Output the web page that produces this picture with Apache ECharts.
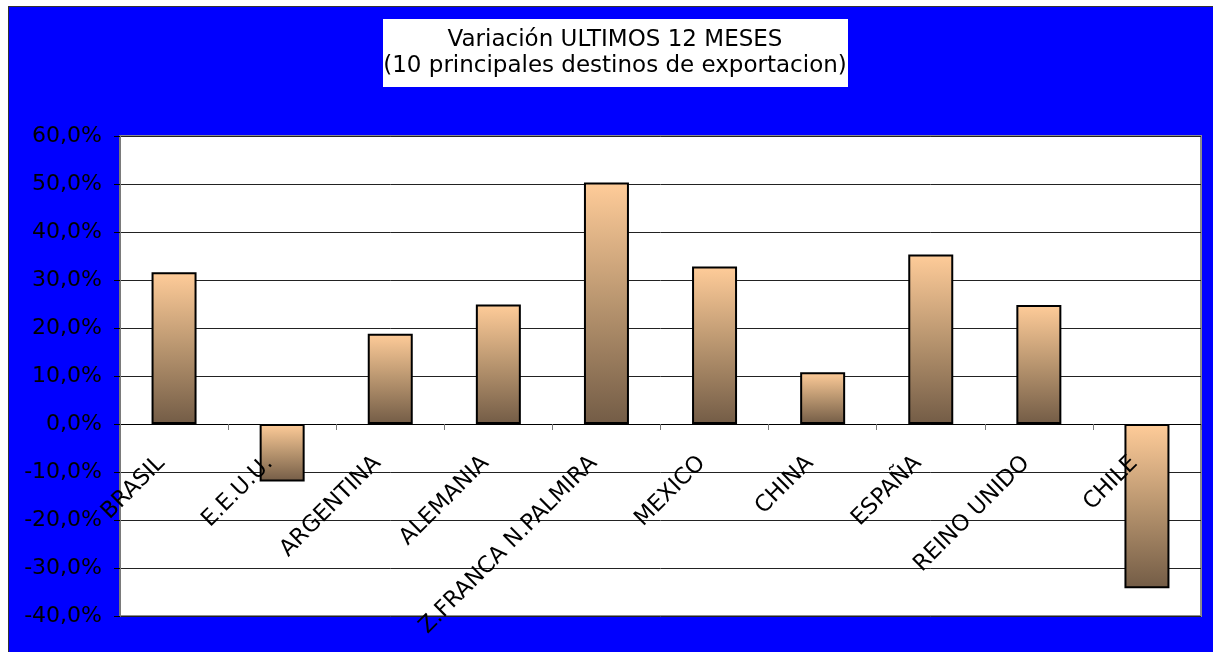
<!DOCTYPE html>
<html>
<head>
<meta charset="utf-8">
<script src="https://cdn.jsdelivr.net/npm/echarts@6/dist/echarts.min.js"></script>
<style>
  html, body { margin: 0; padding: 0; background: #ffffff; }
  #wrap { position: absolute; left: 0; top: 0; width: 1213px; height: 652px; background: #ffffff; overflow: hidden; }
  #bg { position: absolute; left: 8px; top: 6px; right: -4px; bottom: -4px; background: #0000ff; border-left: 1.5px solid #333; border-top: 1.5px solid #333; }
  #chart { position: absolute; left: 0; top: 0; width: 1213px; height: 652px; }
</style>
</head>
<body>
<div id="wrap">
  <div id="bg"></div>
  <div id="chart"></div>
</div>
<script>
const titleLines = ['Variación ULTIMOS 12 MESES', '(10 principales destinos de exportacion)'];
const categories = ['BRASIL', 'E.E.U.U.', 'ARGENTINA', 'ALEMANIA', 'Z.FRANCA N.PALMIRA', 'MEXICO', 'CHINA', 'ESPAÑA', 'REINO UNIDO', 'CHILE'];
const variation = [31.6, -12.0, 18.8, 24.9, 50.3, 32.8, 10.8, 35.3, 24.8, -34.2];
const yTicks = [-40, -30, -20, -10, 0, 10, 20, 30, 40, 50, 60];

const FONT = 'DejaVu Sans';
const chart = echarts.init(document.getElementById('chart'), null, { renderer: 'canvas' });

const GRID = { left: 120, top: 136, right: 12, bottom: 36 };

chart.setOption({
  backgroundColor: 'transparent',
  animation: false,
  graphic: [
    { type: 'rect', shape: { x: 383, y: 19, width: 465, height: 68 }, style: { fill: '#ffffff' }, z: 1 },
    { type: 'text', x: 615, y: 40, z: 2, style: { text: titleLines[0], font: '23px "' + FONT + '"', fill: '#000', align: 'center', verticalAlign: 'middle' } },
    { type: 'text', x: 615, y: 66, z: 2, style: { text: titleLines[1], font: '23px "' + FONT + '"', fill: '#000', align: 'center', verticalAlign: 'middle' } }
  ],
  grid: {
    left: GRID.left, top: GRID.top, right: GRID.right, bottom: GRID.bottom,
    containLabel: false,
    outerBoundsMode: 'none',
    show: true, backgroundColor: '#ffffff', borderColor: '#8c8c8c', borderWidth: 2
  },
  xAxis: {
    type: 'category',
    data: categories,
    position: 'bottom',
    offset: 0,
    boundaryGap: true,
    axisLine: { show: true, onZero: false, lineStyle: { color: '#000', width: 1 } },
    axisTick: { show: true, alignWithLabel: false, length: 6, inside: false, lineStyle: { color: '#777', width: 1 } },
    axisLabel: { interval: 0, rotate: 45, margin: 23, padding: [0, 18, 0, 0], color: '#000', fontFamily: FONT, fontSize: 22.5 },
    splitLine: { show: false },
    z: 5
  },
  yAxis: {
    type: 'value',
    min: yTicks[0],
    max: yTicks[yTicks.length - 1],
    interval: yTicks[1] - yTicks[0],
    axisLine: { show: true, lineStyle: { color: '#7a7a7a', width: 2 } },
    axisTick: { show: true, length: 6, inside: false, lineStyle: { color: '#000', width: 1 } },
    axisLabel: {
      margin: 18, color: '#000', fontFamily: FONT, fontSize: 22,
      formatter: v => v.toFixed(1).replace('.', ',') + '%'
    },
    splitLine: { show: true, lineStyle: { color: '#222', width: 1 } }
  },
  series: [{
    type: 'bar',
    data: variation,
    barWidth: 45,
    z: 2,
    itemStyle: {
      color: new echarts.graphic.LinearGradient(0, 0, 0, 1, [
        { offset: 0, color: '#ffcc99' },
        { offset: 0.5, color: '#b8956f' },
        { offset: 1, color: '#735c46' }
      ]),
      borderColor: '#000',
      borderWidth: 2
    }
  }]
});

// Place the category axis on the zero line of the value scale
const zeroY = chart.convertToPixel({ yAxisIndex: 0 }, 0);
const bottomY = 652 - GRID.bottom;
chart.setOption({ xAxis: { offset: zeroY - bottomY } });
</script>
</body>
</html>
